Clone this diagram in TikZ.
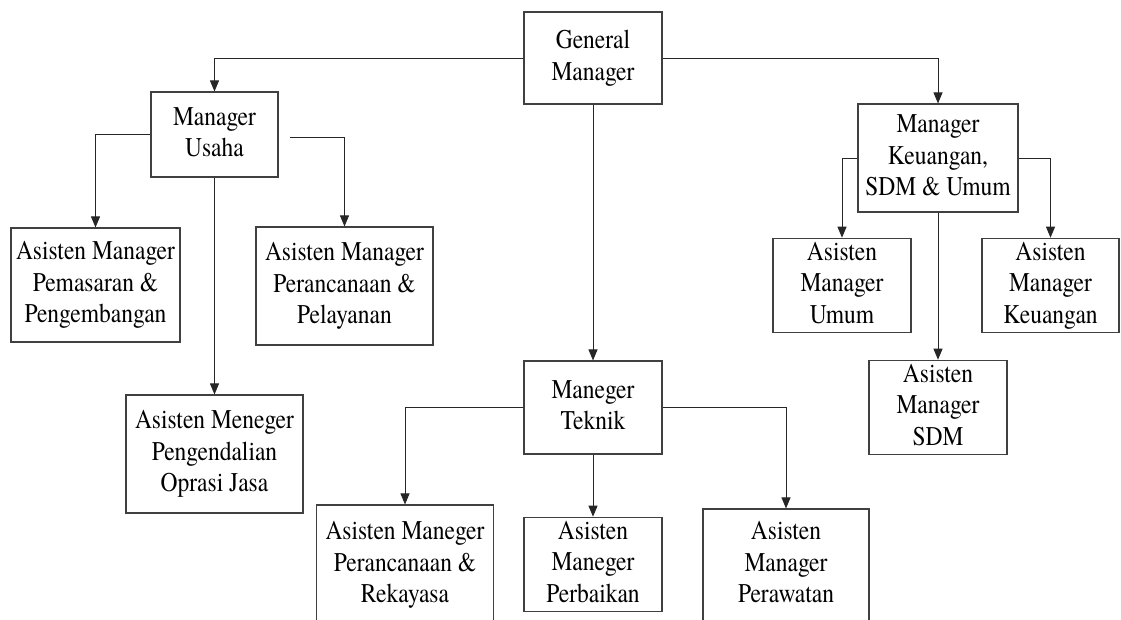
\documentclass[tikz,border=0pt]{standalone}
\usepackage{fontspec}
\usepackage{graphicx}
\setmainfont{TeX Gyre Termes}
\usetikzlibrary{arrows.meta}
\newcommand\tinggi[1]{\scalebox{1}[1.15]{\begin{tabular}{@{}c@{}}#1\end{tabular}}}
\tikzset{
	kotak/.style={draw=black!75,line width=1.1pt,align=center,inner sep=0pt,
		font=\fontsize{23.5}{27.4}\selectfont},
	panah/.style={draw=black!85,line width=.9pt,-{Triangle[length=11pt,width=9pt]}}
}
\begin{document}
\begin{tikzpicture}[x=1pt,y=-1pt]
	\useasboundingbox (0,0) rectangle (1121,620);
	\clip (0,0) rectangle (1121,620);
	%General Manager
	\node[kotak,minimum width=138pt,minimum height=92pt] (gm) at (593,58) {\tinggi{General\\Manager}};
	%Manager Usaha
	\node[kotak,minimum width=127pt,minimum height=85pt] (mu) at (214.5,134.5) {\tinggi{Manager\\Usaha}};
	\node[kotak,minimum width=169pt,minimum height=114pt] (apm) at (95.5,285) {\tinggi{Asisten Manager\\Pemasaran \&\\Pengembangan}};
	\node[kotak,minimum width=177pt,minimum height=118pt] (apl) at (344.5,286) {\tinggi{Asisten Manager\\Perancanaan \&\\Pelayanan}};
	\node[kotak,minimum width=177pt,minimum height=118pt] (apj) at (214.5,454) {\tinggi{Asisten Meneger\\Pengendalian\\Oprasi Jasa}};
	%Manager Keuangan
	\node[kotak,minimum width=160pt,minimum height=108pt] (mk) at (938,158) {\tinggi{Manager\\Keuangan,\\SDM \& Umum}};
	\node[kotak,minimum width=138pt,minimum height=93pt] (amu) at (842,285.5) {\tinggi{Asisten\\Manager\\Umum}};
	\node[kotak,minimum width=137pt,minimum height=93pt] (amk) at (1050.5,285.5) {\tinggi{Asisten\\Manager\\Keuangan}};
	\node[kotak,minimum width=138pt,minimum height=93pt] (ams) at (938,407.5) {\tinggi{Asisten\\Manager\\SDM}};
	%Maneger Teknik
	\node[kotak,minimum width=138pt,minimum height=93pt] (mt) at (593,407.5) {\tinggi{Maneger\\Teknik}};
	\node[kotak,minimum width=177pt,minimum height=120pt] (apr) at (405,565) {\tinggi{Asisten Maneger\\Perancanaan \&\\Rekayasa}};
	\node[kotak,minimum width=138pt,minimum height=93pt] (apb) at (593,564.5) {\tinggi{Asisten\\Maneger\\Perbaikan}};
	\node[kotak,minimum width=166pt,minimum height=112pt] (apw) at (786,565) {\tinggi{Asisten\\Manager\\Perawatan}};
	%garis
	\draw[panah] (gm.west) -| (mu.north);
	\draw[panah] (gm.east) -| (mk.north);
	\draw[panah] (gm.south) -- (mt.north);
	\draw[panah] (mu.west) -| (apm.north);
	\draw[panah,shorten <=11pt] ([yshift=-2.5pt]mu.east) -| (apl.north);
	\draw[panah] (mu.south) -- (apj.north);
	\draw[panah] (mk.west) -| (amu.north);
	\draw[panah] (mk.east) -| (amk.north);
	\draw[panah] (mk.south) -- (ams.north);
	\draw[panah] (mt.west) -| (apr.north);
	\draw[panah] (mt.south) -- (apb.north);
	\draw[panah] (mt.east) -| (apw.north);
\end{tikzpicture}
\end{document}
